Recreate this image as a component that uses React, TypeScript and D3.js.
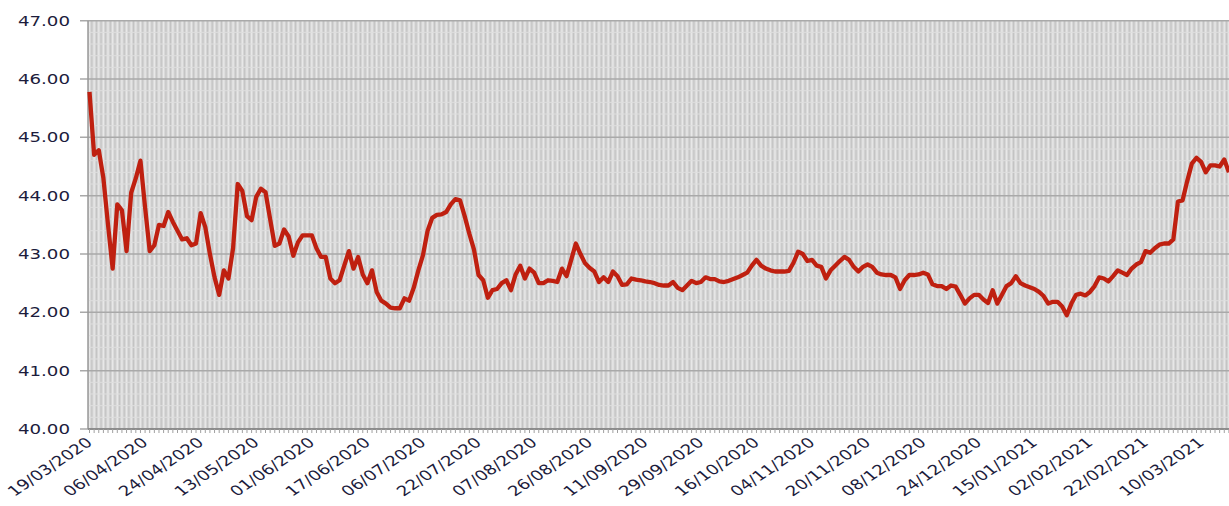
import * as d3 from 'd3';

// daily rate, 19/03/2020 .. 18/03/2021 (trading days)
const values: number[] = [
  45.78, 44.7, 44.78, 44.3, 43.5, 42.75, 43.85, 43.75, 43.05, 44.05,
  44.3, 44.6, 43.8, 43.05, 43.15, 43.5, 43.48, 43.72, 43.55, 43.4,
  43.25, 43.27, 43.15, 43.18, 43.7, 43.46, 43.0, 42.6, 42.3, 42.72,
  42.58, 43.1, 44.2, 44.08, 43.65, 43.58, 43.98, 44.12, 44.06, 43.6,
  43.14, 43.18, 43.42, 43.3, 42.97, 43.2, 43.32, 43.32, 43.32, 43.1,
  42.95, 42.95, 42.58, 42.5, 42.55, 42.8, 43.05, 42.75, 42.95, 42.65,
  42.5, 42.72, 42.35, 42.2, 42.15, 42.08, 42.07, 42.07, 42.24, 42.2,
  42.42, 42.72, 42.98, 43.4, 43.62, 43.67, 43.68, 43.72, 43.85, 43.94,
  43.92, 43.65, 43.35, 43.08, 42.64, 42.55, 42.25, 42.38, 42.4, 42.5,
  42.55, 42.38, 42.65, 42.8, 42.58, 42.75, 42.68, 42.5, 42.5, 42.55,
  42.54, 42.52, 42.75, 42.62, 42.9, 43.18, 43.0, 42.84, 42.76, 42.7,
  42.52, 42.6, 42.52, 42.7, 42.62, 42.47, 42.48, 42.58, 42.56, 42.55,
  42.53, 42.52, 42.5, 42.47, 42.46, 42.46, 42.52, 42.42, 42.38, 42.46,
  42.54, 42.5, 42.52, 42.6, 42.57, 42.57, 42.53, 42.52, 42.54, 42.57,
  42.6, 42.64, 42.68, 42.8, 42.9, 42.8, 42.75, 42.72, 42.7, 42.7,
  42.7, 42.71, 42.85, 43.04, 43.0, 42.88, 42.9, 42.8, 42.78, 42.58,
  42.72, 42.8, 42.88, 42.95, 42.9, 42.78, 42.7, 42.78, 42.82, 42.78,
  42.68, 42.65, 42.64, 42.64, 42.6, 42.4, 42.55, 42.64, 42.64, 42.65,
  42.68, 42.65, 42.48, 42.45, 42.45, 42.4, 42.46, 42.44, 42.3, 42.15,
  42.24, 42.3, 42.3, 42.22, 42.16, 42.38, 42.15, 42.3, 42.45, 42.5,
  42.62, 42.5, 42.46, 42.43, 42.4, 42.35, 42.28, 42.15, 42.18, 42.18,
  42.1, 41.95, 42.15, 42.3, 42.32, 42.29, 42.35, 42.45, 42.6, 42.58,
  42.53, 42.62, 42.72, 42.68, 42.64, 42.75, 42.82, 42.86, 43.05, 43.02,
  43.1, 43.16, 43.18, 43.18, 43.25, 43.9, 43.92, 44.25, 44.55, 44.65,
  44.58, 44.4, 44.52, 44.52, 44.5, 44.62, 44.4,
];

const dateLabels: string[] = [
  '19/03/2020', '06/04/2020', '24/04/2020', '13/05/2020', '01/06/2020',
  '17/06/2020', '06/07/2020', '22/07/2020', '07/08/2020', '26/08/2020',
  '11/09/2020', '29/09/2020', '16/10/2020', '04/11/2020', '20/11/2020',
  '08/12/2020', '24/12/2020', '15/01/2021', '02/02/2021', '22/02/2021',
  '10/03/2021',
];
const labelStep = 12;

const yMajor: number[] = [40, 41, 42, 43, 44, 45, 46, 47];

const W = 1229;
const H = 506;
const left = 88;
const top = 20.7;
const bottom = 429;

const App = () => {
  const x = d3.scaleLinear().domain([0, values.length - 1]).range([89.5, 1228.9]);
  const y = d3.scaleLinear().domain([40, 47]).range([bottom, top]);

  const line = d3.line<number>()
    .x((_, i) => x(i))
    .y(d => y(d));

  // light minor lines every 0.2
  const minor = d3.range(40, 47.001, 0.2).filter(v => Math.abs(v - Math.round(v)) > 0.01);
  const idx = d3.range(values.length);

  return (
    <svg width={W} height={H} style={{ position: 'absolute', left: 0, top: 0, display: 'block', background: '#fff' }}>
      <rect x={left} y={top} width={W - left} height={bottom - top} fill="#d5d5d5" />
      {idx.map(i => (
        <g key={'v' + i}>
          <line x1={x(i)} x2={x(i)} y1={top} y2={bottom} stroke="#e8e8e8" strokeWidth={1.3} />
          <line x1={x(i) + 2.3} x2={x(i) + 2.3} y1={top} y2={bottom} stroke="#c3c3c3" strokeWidth={1} />
        </g>
      ))}
      {minor.map(v => (
        <line key={'m' + v} x1={left} x2={W} y1={y(v)} y2={y(v)} stroke="#dedede" strokeWidth={1} />
      ))}
      {yMajor.map(v => (
        <g key={'g' + v}>
          <line x1={80} x2={W} y1={y(v)} y2={y(v)} stroke="#a9a9a9" strokeWidth={1.5} />
          <text
            transform={`translate(70,${y(v)}) scale(1.3,1)`}
            textAnchor="end"
            dy="0.36em"
            fontFamily="DejaVu Sans"
            fontSize={14}
            fill="#1c1c3c"
          >
            {v.toFixed(2)}
          </text>
        </g>
      ))}
      <line x1={left} x2={left} y1={top} y2={bottom} stroke="#999" strokeWidth={1.5} />
      <line x1={left} x2={W} y1={bottom} y2={bottom} stroke="#8c8c8c" strokeWidth={2} />
      {idx.map(i => (
        <line key={'t' + i} x1={x(i)} x2={x(i)} y1={bottom} y2={bottom + 4} stroke="#a0a0a0" strokeWidth={1} />
      ))}
      {dateLabels.map((s, k) => (
        <text
          key={s}
          transform={`translate(${x(k * labelStep) + 4},${bottom + 15}) scale(1.3,1) rotate(-41)`}
          textAnchor="end"
          fontFamily="DejaVu Sans"
          fontSize={14}
          fill="#1c1c3c"
        >
          {s}
        </text>
      ))}
      <path d={line(values) ?? ''} fill="none" stroke="#bf2010" strokeWidth={4.3} strokeLinejoin="round" />
    </svg>
  );
};

export default App;
